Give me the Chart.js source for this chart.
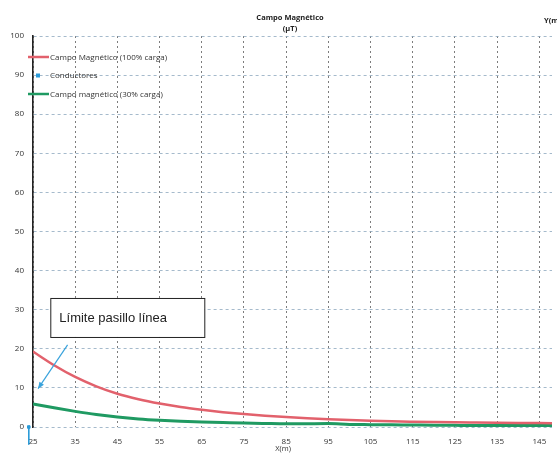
<!DOCTYPE html>
<html>
<head>
<meta charset="utf-8">
<script src="https://cdn.jsdelivr.net/npm/chart.js@4/dist/chart.umd.min.js"></script>
<style>
  html, body { margin: 0; padding: 0; background: #fff; overflow: hidden; }
  #wrap { width: 557px; height: 457px; }
</style>
</head>
<body>
<div id="wrap"><canvas id="chart" width="557" height="457"></canvas></div>
<script>
// distancias X(m)
const distancias = [25, 30, 35, 40, 45, 50, 55, 60, 65, 70, 75, 80, 85, 90, 95, 100, 105, 110, 115, 120, 125, 130, 135, 140, 145, 148]
// campo magnetico uT, 100% carga
const campo100 = [19.3, 15.8, 12.8, 10.4, 8.5, 7.1, 6.0, 5.1, 4.4, 3.8, 3.3, 2.9, 2.55, 2.25, 2.0, 1.8, 1.6, 1.45, 1.35, 1.27, 1.2, 1.15, 1.1, 1.05, 1.0, 0.98]
// campo magnetico uT, 30% carga
const campo30 = [5.9, 4.9, 4.0, 3.2, 2.55, 2.05, 1.7, 1.45, 1.3, 1.15, 1.0, 0.9, 0.82, 0.85, 0.88, 0.66, 0.6, 0.55, 0.5, 0.45, 0.42, 0.4, 0.4, 0.4, 0.4, 0.4]
// posicion de los conductores
const conductoresX = [24, 24]
const conductoresY = [0, -4.5]

const xTicks = [25, 35, 45, 55, 65, 75, 85, 95, 105, 115, 125, 135, 145]
const yTicks = [0, 10, 20, 30, 40, 50, 60, 70, 80, 90, 100]

const rojo = '#e2616c'
const verde = '#1f9a62'
const azul = '#2a9ad8'
const fuente = "'Open Sans', 'DejaVu Sans', sans-serif"

function pts(xs, ys) {
  return xs.map((x, i) => ({ x: x, y: ys[i] }))
}

// titulo, leyenda y nota del limite
const extras = {
  id: 'extras',
  afterDraw(chart) {
    const ctx = chart.ctx
    const xs = chart.scales.x, ys = chart.scales.y
    ctx.save()

    ctx.fillStyle = '#222'
    ctx.font = 'bold 7.5px ' + fuente
    ctx.textAlign = 'center'
    ctx.textBaseline = 'middle'
    ctx.fillText('Campo Magnético', 290, 18)
    ctx.fillText('(μT)', 290, 29)
    ctx.textAlign = 'left'
    ctx.fillText('Y(m)', 544, 21)
    ctx.font = '7.5px ' + fuente
    ctx.textAlign = 'center'
    ctx.fillStyle = '#333'
    ctx.fillText('X(m)', 283, 449)

    // leyenda
    const items = chart.data.datasets.map((d, i) => ({ ds: d, y: 57 + i * 18.5 }))
    ctx.textAlign = 'left'
    ctx.font = '8px ' + fuente
    items.forEach(it => {
      ctx.strokeStyle = it.ds.borderColor
      ctx.lineWidth = 2.5
      if (it.ds.label === 'Conductores') {
        ctx.fillStyle = it.ds.borderColor
        ctx.fillRect(36, it.y - 2, 4, 4)
      } else {
        ctx.beginPath()
        ctx.moveTo(28, it.y)
        ctx.lineTo(49, it.y)
        ctx.stroke()
      }
      ctx.fillStyle = '#333'
      ctx.fillText(it.ds.label, 50, it.y + 0.5)
    })

    // nota: limite del pasillo
    const bx = xs.getPixelForValue(29.1), by = ys.getPixelForValue(33.0)
    const bw = 154, bh = 39
    ctx.fillStyle = '#fff'
    ctx.fillRect(bx, by, bw, bh)
    ctx.strokeStyle = '#222'
    ctx.lineWidth = 1
    ctx.strokeRect(bx + 0.5, by + 0.5, bw, bh)
    ctx.fillStyle = '#222'
    ctx.font = "13px 'Liberation Sans', Arial, sans-serif"
    ctx.textBaseline = 'alphabetic'
    ctx.fillText('Límite pasillo línea', bx + 9, by + 24)

    const x0 = xs.getPixelForValue(33.2), y0 = ys.getPixelForValue(21.0)
    const x1 = xs.getPixelForValue(26.2), y1 = ys.getPixelForValue(9.8)
    ctx.strokeStyle = '#3aa3dc'
    ctx.fillStyle = '#3aa3dc'
    ctx.lineWidth = 1.2
    ctx.beginPath()
    ctx.moveTo(x0, y0)
    ctx.lineTo(x1, y1)
    ctx.stroke()
    const ang = Math.atan2(y1 - y0, x1 - x0)
    ctx.beginPath()
    ctx.moveTo(x1, y1)
    ctx.lineTo(x1 - 7 * Math.cos(ang - 0.4), y1 - 7 * Math.sin(ang - 0.4))
    ctx.lineTo(x1 - 7 * Math.cos(ang + 0.4), y1 - 7 * Math.sin(ang + 0.4))
    ctx.closePath()
    ctx.fill()

    ctx.restore()
  }
}

new Chart(document.getElementById('chart'), {
  type: 'line',
  data: {
    datasets: [
      {
        label: 'Campo Magnético (100% carga)',
        data: pts(distancias, campo100),
        borderColor: rojo,
        borderWidth: 2.5,
        pointRadius: 0,
        cubicInterpolationMode: 'monotone'
      },
      {
        label: 'Conductores',
        data: pts(conductoresX, conductoresY),
        borderColor: azul,
        backgroundColor: azul,
        borderWidth: 1,
        pointRadius: 1.8,
        pointStyle: 'rect',
        clip: false
      },
      {
        label: 'Campo magnético (30% carga)',
        data: pts(distancias, campo30),
        borderColor: verde,
        borderWidth: 3,
        pointRadius: 0,
        cubicInterpolationMode: 'monotone'
      }
    ]
  },
  options: {
    responsive: false,
    animation: false,
    layout: { padding: { top: 36, right: 0, left: 0, bottom: 0 } },
    plugins: {
      legend: { display: false },
      title: { display: false },
      tooltip: { enabled: false }
    },
    scales: {
      x: {
        type: 'linear',
        min: 25,
        max: 148,
        afterFit(s) { s.height = 30 },
        afterBuildTicks(s) { s.ticks = xTicks.map(v => ({ value: v })) },
        grid: {
          color: '#5a5a5a',
          lineWidth: 0.8,
          drawTicks: false
        },
        border: { display: false, dash: [2, 3] },
        ticks: {
          padding: 10,
          color: '#333',
          font: { family: fuente, size: 8 },
          maxRotation: 0
        }
      },
      y: {
        min: 0,
        max: 100,
        afterFit(s) { s.width = 33 },
        afterBuildTicks(s) { s.ticks = yTicks.map(v => ({ value: v })) },
        grid: {
          color: '#8fa9bf',
          lineWidth: 0.8,
          drawTicks: false
        },
        border: { display: true, color: '#222', width: 1.6, dash: [3, 3] },
        ticks: {
          padding: 9,
          color: '#333',
          font: { family: fuente, size: 8 }
        }
      }
    }
  },
  plugins: [extras]
})
</script>
</body>
</html>
